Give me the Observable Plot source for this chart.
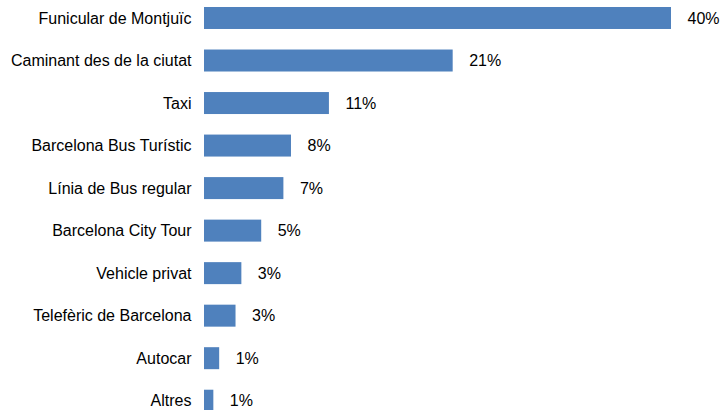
<!DOCTYPE html>
<html>
<head>
<meta charset="utf-8">
<script src="https://cdn.jsdelivr.net/npm/d3@7"></script>
<script src="https://cdn.jsdelivr.net/npm/@observablehq/plot@0.6"></script>
<style>
  html, body { margin: 0; padding: 0; background: #fff; overflow: hidden; }
  #chart svg { display: block; overflow: hidden; }
</style>
</head>
<body>
<div id="chart"></div>
<script>
const categories = [
  "Funicular de Montjuïc",
  "Caminant des de la ciutat",
  "Taxi",
  "Barcelona Bus Turístic",
  "Línia de Bus regular",
  "Barcelona City Tour",
  "Vehicle privat",
  "Telefèric de Barcelona",
  "Autocar",
  "Altres"
];
const values = [40, 21.3, 10.7, 7.45, 6.8, 4.9, 3.2, 2.7, 1.3, 0.8];
const valueLabels = ["40%", "21%", "11%", "8%", "7%", "5%", "3%", "3%", "1%", "1%"];

const data = categories.map((c, i) => ({ cat: c, value: values[i], label: valueLabels[i] }));

const plot = Plot.plot({
  width: 722,
  height: 410,
  marginLeft: 204,
  marginRight: 51,
  marginTop: 0,
  marginBottom: 0,
  style: { fontFamily: "'Liberation Sans', Arial, sans-serif", fontSize: "16px", color: "#000", background: "#fff" },
  x: { domain: [0, 40], range: [204, 671], axis: null },
  y: { domain: categories, range: [7, 411.7], round: false, padding: 0.483, paddingOuter: 0, align: 0, label: null,
       axis: null },
  marks: [
    Plot.barX(data, { x: "value", y: "cat", fill: "#4f81bd" }),
    Plot.axisY({ tickSize: 0, tickPadding: 13, fontSize: 16, fill: "#000", label: null }),
    Plot.text(data, { x: "value", y: "cat", text: "label", textAnchor: "start", dx: 16, fill: "#000", fontSize: 16 })
  ]
});
document.getElementById("chart").appendChild(plot);
</script>
</body>
</html>
